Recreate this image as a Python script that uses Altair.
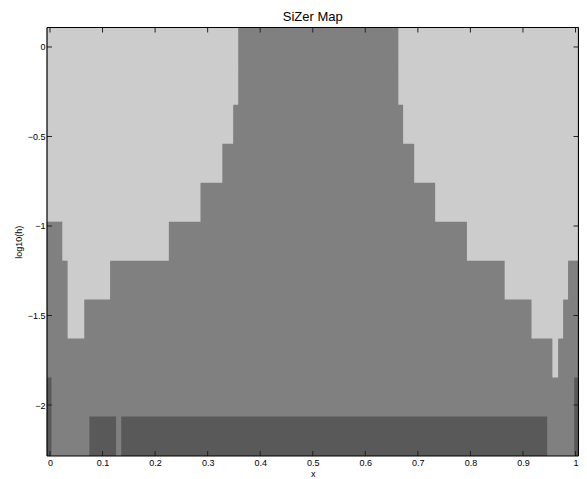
import altair as alt
import pandas as pd

# ---- data ----
x_ticks = [0, 0.1, 0.2, 0.3, 0.4, 0.5, 0.6, 0.7, 0.8, 0.9, 1.0]
y_ticks = [0, -0.5, -1, -1.5, -2]

X_MIN, X_MAX = -0.0057, 1.0057
ROW_STEP = 0.2176
log10h = [0.0, -0.2176, -0.4352, -0.6528, -0.8704, -1.088,
          -1.3056, -1.5232, -1.7408, -1.9584, -2.176]

# interior class boundaries (x) for each bandwidth row, top row first
row_breaks = [
    [0.3586, 0.6629],
    [0.3586, 0.6629],
    [0.349, 0.672],
    [0.3284, 0.693],
    [0.2868, 0.7329],
    [0.0234, 0.2263, 0.7934],
    [0.0335, 0.1147, 0.8652, 0.9862],
    [0.0335, 0.0656, 0.9163, 0.9768],
    [0.956, 0.9673],
    [0.0032, 0.9975],
    [0.0032, 0.0750, 0.1261, 0.1355, 0.9465, 0.9975],
]
row_classes = [
    ["light", "mid", "light"],
    ["light", "mid", "light"],
    ["light", "mid", "light"],
    ["light", "mid", "light"],
    ["light", "mid", "light"],
    ["mid", "light", "mid", "light"],
    ["mid", "light", "mid", "light", "mid"],
    ["mid", "light", "mid", "light", "mid"],
    ["mid", "light", "mid"],
    ["dark", "mid", "dark"],
    ["dark", "mid", "dark", "mid", "dark", "mid", "dark"],
]
class_names = ["light", "mid", "dark"]
class_colors = ["#cccccc", "#808080", "#595959"]

# ---- build table ----
recs = []
for yc, brk, cls in zip(log10h, row_breaks, row_classes):
    edges = [X_MIN] + brk + [X_MAX]
    for i, c in enumerate(cls):
        recs.append({"x0": edges[i], "x1": edges[i + 1],
                     "y0": yc - ROW_STEP / 2, "y1": yc + ROW_STEP / 2, "cls": c})
df = pd.DataFrame(recs)
Y_MIN = log10h[-1] - ROW_STEP / 2
Y_MAX = log10h[0] + ROW_STEP / 2

W, H = 531.5, 428.5
FONT = "Liberation Sans"

xscale = alt.Scale(domain=[X_MIN, X_MAX], nice=False, zero=False)
yscale = alt.Scale(domain=[Y_MIN, Y_MAX], nice=False, zero=False)
cscale = alt.Scale(domain=class_names, range=class_colors)

rects = alt.Chart(df).mark_rect(y2Offset=-0.6).encode(
    x=alt.X("x0:Q", scale=xscale,
            axis=alt.Axis(values=x_ticks, format="~g", ticks=False, domain=False, grid=False,
                          labelFont=FONT, labelFontSize=9, labelColor="black", labelPadding=2,
                          title="x", titleFont=FONT, titleFontSize=9, titleFontWeight="normal",
                          titleColor="black", titlePadding=2)),
    x2="x1:Q",
    y=alt.Y("y0:Q", scale=yscale,
            axis=alt.Axis(values=y_ticks, format="~g", ticks=False, domain=False, grid=False,
                          labelFont=FONT, labelFontSize=9, labelColor="black", labelPadding=2,
                          title="log10(h)", titleFont=FONT, titleFontSize=9,
                          titleFontWeight="normal", titleColor="black", titlePadding=4)),
    y2="y1:Q",
    color=alt.Color("cls:N", scale=cscale, legend=None),
)

xt = pd.DataFrame({"t": x_ticks})
yt = pd.DataFrame({"t": y_ticks})
TL = 5
TC = "#222222"
xt_bottom = alt.Chart(xt).mark_rule(color=TC, strokeWidth=1).encode(
    x="t:Q", y=alt.value(H), y2=alt.value(H - TL))
xt_top = alt.Chart(xt).mark_rule(color=TC, strokeWidth=1).encode(
    x="t:Q", y=alt.value(0), y2=alt.value(TL))
yt_left = alt.Chart(yt).mark_rule(color=TC, strokeWidth=1).encode(
    y="t:Q", x=alt.value(0), x2=alt.value(TL))
yt_right = alt.Chart(yt).mark_rule(color=TC, strokeWidth=1).encode(
    y="t:Q", x=alt.value(W), x2=alt.value(W - TL))

one = pd.DataFrame({"a": [0]})
frame = [
    alt.Chart(one).mark_rule(color="black", strokeWidth=1.2).encode(
        x=alt.value(0), x2=alt.value(W), y=alt.value(0)),
    alt.Chart(one).mark_rule(color="black", strokeWidth=1.2).encode(
        x=alt.value(0), x2=alt.value(W), y=alt.value(H)),
    alt.Chart(one).mark_rule(color="black", strokeWidth=1.2).encode(
        y=alt.value(0), y2=alt.value(H), x=alt.value(0)),
    alt.Chart(one).mark_rule(color="black", strokeWidth=1.2).encode(
        y=alt.value(0), y2=alt.value(H), x=alt.value(W)),
]

title = alt.Chart(pd.DataFrame({"t": ["SiZer Map"]})).mark_text(
    font=FONT, fontSize=13, color="black", baseline="alphabetic", align="center"
).encode(text="t:N", x=alt.value(W / 2), y=alt.value(-6.5))

chart = alt.layer(rects, xt_bottom, xt_top, yt_left, yt_right, *frame, title).properties(
    width=W, height=H,
    autosize=alt.AutoSizeParams(type="none"),
    padding={"left": 39, "top": 19.5, "right": 0.5, "bottom": 22},
).configure_view(stroke=None, fill="#808080")

chart.save("out.html", embed_options={"renderer": "svg", "actions": False})
